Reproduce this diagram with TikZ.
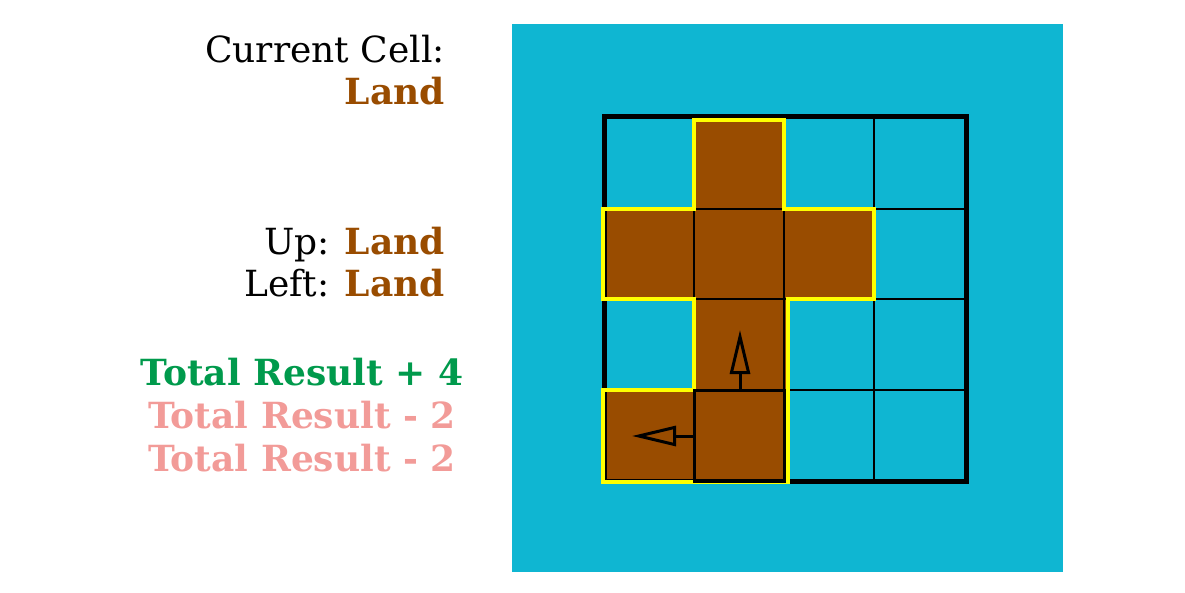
\documentclass[tikz,border=0pt]{standalone}
\usepackage{fontspec}
\setmainfont{DejaVu Serif}
\usetikzlibrary{arrows.meta}
\definecolor{sea}{HTML}{0FB6D2}
\definecolor{land}{HTML}{994C00}
\definecolor{good}{HTML}{009A4C}
\definecolor{bad}{HTML}{F29B98}
\definecolor{hl}{HTML}{FFFF00}
\tikzset{
  lbl/.style={font=\fontsize{36}{43}\selectfont, inner sep=0pt},
  thin grid/.style={draw=black, line width=2pt},
  border/.style={draw=black, line width=5pt},
  outline/.style={draw=hl, line width=4pt, line join=miter},
  move/.style={draw=black, line width=3pt, -{Triangle[open, length=44pt, width=20pt]}},
}
\begin{document}
\begin{tikzpicture}[x=1pt, y=-1pt]
\useasboundingbox (0,0) rectangle (1185,593);
% sea
\fill[sea] (512,24) rectangle (1063,572);
% land cells
\fill[land] (694,117) rectangle (784,209);
\fill[land] (604,209) rectangle (874,299);
\fill[land] (694,299) rectangle (786,481);
\fill[land] (604,390) rectangle (694,481);
% thin grid
\foreach \x in {694,784,874} \draw[thin grid] (\x,117) -- (\x,481);
\foreach \y in {209,299,390} \draw[thin grid] (604,\y) -- (966,\y);
% outer border
\draw[border] (604,117) rectangle (966,481);
% yellow outline of the land region
\draw[outline] (694,120) -- (784,120) -- (784,209) -- (874,209) -- (874,299)
  -- (788,299) -- (788,482) -- (603,482) -- (603,390) -- (694,390) -- (694,299)
  -- (603,299) -- (603,209) -- (694,209) -- cycle;
% current cell box
\draw[black, line width=3pt] (694,390) rectangle (784,481);
% moves
\coordinate (upfrom) at (740,390);
\coordinate (upto) at (740,330);
\coordinate (leftfrom) at (694,436);
\coordinate (leftto) at (632,436);
\draw[move] (upfrom) -- (upto);
\draw[move] (leftfrom) -- (leftto);
% texts
\node[lbl, anchor=base east] (cur) at (445,63) {Current Cell:};
\node[lbl, anchor=base east, text=land] (curv) at (445,105) {\bfseries Land};
\node[lbl, anchor=base east] (up) at (445,255) {Up: \textcolor{land}{\bfseries Land}};
\node[lbl, anchor=base east] (left) at (445,297) {Left: \textcolor{land}{\bfseries Land}};
\node[lbl, anchor=base, text=good] (r1) at (302,385) {\bfseries Total Result + 4};
\node[lbl, anchor=base, text=bad] (r2) at (302,428) {\bfseries Total Result - 2};
\node[lbl, anchor=base, text=bad] (r3) at (302,471) {\bfseries Total Result - 2};
\end{tikzpicture}
\end{document}
